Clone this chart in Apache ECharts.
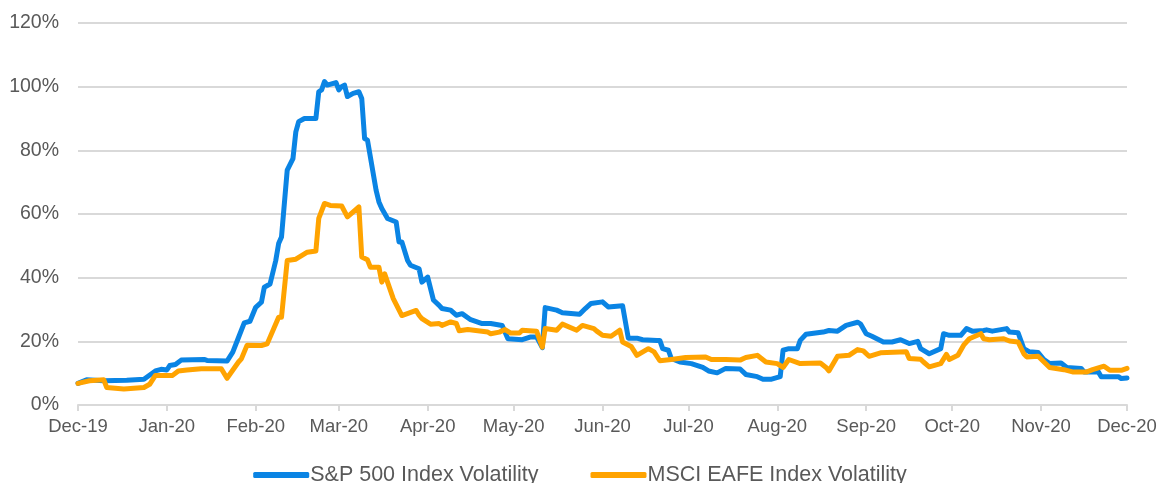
<!DOCTYPE html>
<html>
<head>
<meta charset="utf-8">
<script src="https://cdn.jsdelivr.net/npm/echarts@6/dist/echarts.min.js"></script>
<style>
  html, body { margin: 0; padding: 0; background: #fff; }
  #chart1 { width: 1160px; height: 483px; }
</style>
</head>
<body>
<div id="chart1"></div>
<script>
// month ticks on the date axis
var tickDates = ['2019-12-01', '2020-01-01', '2020-02-01', '2020-03-01', '2020-04-01', '2020-05-01', '2020-06-01',
  '2020-07-01', '2020-08-01', '2020-09-01', '2020-10-01', '2020-11-01', '2020-12-01'];
var tickLabels = ['Dec-19', 'Jan-20', 'Feb-20', 'Mar-20', 'Apr-20', 'May-20', 'Jun-20',
  'Jul-20', 'Aug-20', 'Sep-20', 'Oct-20', 'Nov-20', 'Dec-20'];

// S&P 500 index volatility (%)
var spDates = ['2019-12-01', '2019-12-04', '2019-12-10', '2019-12-18', '2019-12-24', '2019-12-28', '2019-12-30',
  '2020-01-01', '2020-01-02', '2020-01-04', '2020-01-06', '2020-01-14', '2020-01-15', '2020-01-22', '2020-01-24',
  '2020-01-26', '2020-01-28', '2020-01-30', '2020-02-01', '2020-02-03', '2020-02-04', '2020-02-06', '2020-02-08',
  '2020-02-09', '2020-02-10', '2020-02-12', '2020-02-14', '2020-02-15', '2020-02-16', '2020-02-18', '2020-02-22',
  '2020-02-23', '2020-02-24', '2020-02-25', '2020-02-26', '2020-02-29', '2020-03-01', '2020-03-02', '2020-03-03',
  '2020-03-04', '2020-03-06', '2020-03-08', '2020-03-09', '2020-03-10', '2020-03-11', '2020-03-14', '2020-03-15',
  '2020-03-16', '2020-03-18', '2020-03-21', '2020-03-22', '2020-03-23', '2020-03-25', '2020-03-26', '2020-03-29',
  '2020-03-30', '2020-04-01', '2020-04-03', '2020-04-05', '2020-04-06', '2020-04-09', '2020-04-11', '2020-04-13',
  '2020-04-16', '2020-04-20', '2020-04-23', '2020-04-27', '2020-04-29', '2020-05-04', '2020-05-07', '2020-05-09',
  '2020-05-11', '2020-05-12', '2020-05-16', '2020-05-18', '2020-05-24', '2020-05-26', '2020-05-28', '2020-06-01',
  '2020-06-03', '2020-06-08', '2020-06-10', '2020-06-13', '2020-06-15', '2020-06-20', '2020-06-21', '2020-06-22',
  '2020-06-24', '2020-06-25', '2020-06-28', '2020-07-02', '2020-07-06', '2020-07-08', '2020-07-11', '2020-07-14',
  '2020-07-19', '2020-07-21', '2020-07-25', '2020-07-27', '2020-07-30', '2020-08-02', '2020-08-03', '2020-08-05',
  '2020-08-08', '2020-08-09', '2020-08-11', '2020-08-17', '2020-08-19', '2020-08-22', '2020-08-25', '2020-08-29',
  '2020-08-30', '2020-09-01', '2020-09-03', '2020-09-07', '2020-09-10', '2020-09-13', '2020-09-16', '2020-09-19',
  '2020-09-20', '2020-09-23', '2020-09-27', '2020-09-28', '2020-09-30', '2020-10-04', '2020-10-06', '2020-10-08',
  '2020-10-12', '2020-10-13', '2020-10-15', '2020-10-20', '2020-10-21', '2020-10-24', '2020-10-26', '2020-10-28',
  '2020-10-31', '2020-11-02', '2020-11-04', '2020-11-08', '2020-11-10', '2020-11-15', '2020-11-16', '2020-11-21',
  '2020-11-22', '2020-11-28', '2020-11-29', '2020-12-01'];
var spValues = [6.8, 7.9, 7.6, 7.8, 8.1, 10.7, 11.2,
  11.0, 12.4, 12.7, 14.1, 14.3, 14.0, 13.8, 16.6,
  21.2, 25.8, 26.3, 30.7, 32.3, 37.0, 38.0, 45.4,
  50.7, 52.8, 73.8, 77.4, 85.8, 89.0, 90.0, 90.0,
  98.4, 99.0, 101.6, 100.5, 101.3, 99.0, 100.0, 100.5,
  96.9, 97.9, 98.4, 96.3, 83.7, 83.2, 67.5, 63.8,
  61.7, 58.6, 57.5, 51.2, 51.2, 45.4, 43.9, 42.8,
  38.6, 40.2, 33.0, 31.3, 30.3, 29.8, 28.2, 28.7,
  26.8, 25.6, 25.6, 25.0, 20.8, 20.5, 21.4, 21.4,
  18.0, 30.6, 29.8, 29.0, 28.5, 30.3, 31.9, 32.4,
  30.8, 31.2, 21.0, 21.0, 20.5, 20.3, 20.3, 17.7,
  17.2, 14.6, 13.5, 13.0, 11.8, 10.7, 10.1, 11.5,
  11.3, 9.6, 8.9, 8.1, 8.1, 8.9, 17.2, 17.7,
  17.7, 20.3, 22.2, 22.9, 23.4, 23.2, 25.0, 26.0,
  25.5, 22.4, 21.6, 19.8, 19.8, 20.5, 19.3, 20.0,
  17.7, 16.1, 17.7, 22.4, 21.9, 21.9, 24.0, 23.2,
  23.4, 23.6, 23.2, 24.0, 22.9, 22.7, 17.7, 16.7,
  16.5, 14.3, 13.0, 13.2, 11.8, 11.5, 10.4, 10.4,
  8.9, 8.9, 8.3, 8.5];

// MSCI EAFE index volatility (%)
var eafeDates = ['2019-12-01', '2019-12-05', '2019-12-10', '2019-12-11', '2019-12-17', '2019-12-24', '2019-12-26',
  '2019-12-28', '2020-01-03', '2020-01-05', '2020-01-08', '2020-01-13', '2020-01-20', '2020-01-22', '2020-01-26',
  '2020-01-27', '2020-01-29', '2020-02-03', '2020-02-05', '2020-02-09', '2020-02-10', '2020-02-12', '2020-02-15',
  '2020-02-19', '2020-02-22', '2020-02-23', '2020-02-25', '2020-02-27', '2020-03-02', '2020-03-04', '2020-03-08',
  '2020-03-09', '2020-03-11', '2020-03-12', '2020-03-15', '2020-03-16', '2020-03-17', '2020-03-20', '2020-03-23',
  '2020-03-28', '2020-03-29', '2020-03-30', '2020-04-02', '2020-04-05', '2020-04-06', '2020-04-09', '2020-04-11',
  '2020-04-12', '2020-04-15', '2020-04-22', '2020-04-23', '2020-04-26', '2020-04-28', '2020-04-30', '2020-05-03',
  '2020-05-04', '2020-05-09', '2020-05-11', '2020-05-12', '2020-05-16', '2020-05-18', '2020-05-23', '2020-05-25',
  '2020-05-29', '2020-05-30', '2020-06-01', '2020-06-04', '2020-06-07', '2020-06-08', '2020-06-11', '2020-06-13',
  '2020-06-17', '2020-06-19', '2020-06-21', '2020-06-25', '2020-06-30', '2020-07-07', '2020-07-09', '2020-07-14',
  '2020-07-19', '2020-07-21', '2020-07-25', '2020-07-28', '2020-08-01', '2020-08-03', '2020-08-05', '2020-08-09',
  '2020-08-16', '2020-08-18', '2020-08-19', '2020-08-22', '2020-08-26', '2020-08-29', '2020-08-31', '2020-09-02',
  '2020-09-06', '2020-09-15', '2020-09-16', '2020-09-20', '2020-09-21', '2020-09-23', '2020-09-27', '2020-09-29',
  '2020-09-30', '2020-10-03', '2020-10-05', '2020-10-07', '2020-10-11', '2020-10-12', '2020-10-14', '2020-10-19',
  '2020-10-21', '2020-10-24', '2020-10-26', '2020-10-27', '2020-10-31', '2020-11-04', '2020-11-09', '2020-11-12',
  '2020-11-17', '2020-11-19', '2020-11-23', '2020-11-25', '2020-11-29', '2020-12-01'];
var eafeValues = [6.8, 7.6, 7.9, 5.5, 5.0, 5.5, 6.5,
  9.3, 9.3, 10.7, 11.0, 11.4, 11.4, 8.4, 13.5,
  14.5, 18.8, 18.7, 19.2, 27.6, 27.6, 45.4, 45.8,
  48.0, 48.4, 58.6, 63.3, 62.7, 62.5, 59.1, 62.2,
  46.5, 45.6, 43.3, 43.3, 38.6, 41.2, 33.4, 28.1,
  29.7, 28.2, 27.1, 25.4, 25.6, 25.0, 26.1, 25.6,
  23.3, 23.7, 22.9, 22.4, 22.9, 23.7, 22.6, 22.6,
  23.5, 23.2, 18.2, 24.0, 23.5, 25.4, 23.5, 25.0,
  24.0, 23.2, 21.9, 21.6, 23.5, 19.8, 18.4, 15.6,
  17.7, 16.7, 13.9, 14.3, 14.9, 15.1, 14.3, 14.3,
  14.1, 14.9, 15.6, 13.5, 13.0, 11.8, 14.3, 13.0,
  13.2, 11.8, 10.7, 15.3, 15.6, 17.4, 17.0, 15.3,
  16.4, 16.7, 14.6, 14.4, 13.5, 12.0, 13.0, 15.9,
  14.3, 15.6, 18.8, 20.8, 22.4, 20.8, 20.5, 20.8,
  20.1, 19.8, 16.1, 15.1, 15.3, 11.8, 11.1, 10.4,
  10.4, 11.1, 12.2, 10.9, 10.9, 11.5];

// dates -> day timestamps (UTC), so the x axis is a plain numeric scale
function toTime(d) {
  var p = d.split('-');
  return Date.UTC(+p[0], +p[1] - 1, +p[2]);
}

function pairs(dates, values) {
  return dates.map(function (d, i) { return [toTime(d), values[i]]; });
}

var tickTimes = tickDates.map(toTime);

var myChart = echarts.init(document.getElementById('chart1'));

var option = {
  animation: false,
  color: ['#0A84E4', '#FFA300'],
  grid: { left: 78, right: 33, top: 23, bottom: 78 },
  legend: {
    top: 459,
    left: 'center',
    itemGap: 52,
    itemWidth: 56,
    itemHeight: 6,
    icon: 'roundRect',
    textStyle: { fontFamily: 'Liberation Sans, Arial, sans-serif', fontSize: 21.5, color: '#595959', padding: [0, 0, 0, -4] },
    data: ['S&P 500 Index Volatility', 'MSCI EAFE Index Volatility']
  },
  xAxis: {
    type: 'value',
    min: tickTimes[0],
    max: tickTimes[tickTimes.length - 1],
    axisLine: { show: true, onZero: false, lineStyle: { color: '#d9d9d9', width: 2 } },
    axisTick: { show: true, length: 6, lineStyle: { color: '#d9d9d9', width: 2 }, customValues: tickTimes },
    axisLabel: {
      customValues: tickTimes,
      margin: 12,
      fontFamily: 'Liberation Sans, Arial, sans-serif',
      fontSize: 18.5,
      color: '#595959',
      formatter: function (value) {
        var i = tickTimes.indexOf(value);
        return i >= 0 ? tickLabels[i] : '';
      }
    },
    splitLine: { show: false }
  },
  yAxis: {
    type: 'value',
    min: 0,
    max: 120,
    interval: 20,
    axisLine: { show: false },
    axisTick: { show: false },
    axisLabel: {
      margin: 19,
      fontFamily: 'Liberation Sans, Arial, sans-serif',
      fontSize: 19.5,
      color: '#595959',
      formatter: '{value}%'
    },
    splitLine: { lineStyle: { color: '#d9d9d9', width: 2 } }
  },
  series: [
    {
      name: 'S&P 500 Index Volatility',
      type: 'line',
      showSymbol: false,
      lineStyle: { width: 5, cap: 'round', join: 'round' },
      data: pairs(spDates, spValues)
    },
    {
      name: 'MSCI EAFE Index Volatility',
      type: 'line',
      showSymbol: false,
      lineStyle: { width: 5, cap: 'round', join: 'round' },
      data: pairs(eafeDates, eafeValues)
    }
  ]
};

myChart.setOption(option);
</script>
</body>
</html>
